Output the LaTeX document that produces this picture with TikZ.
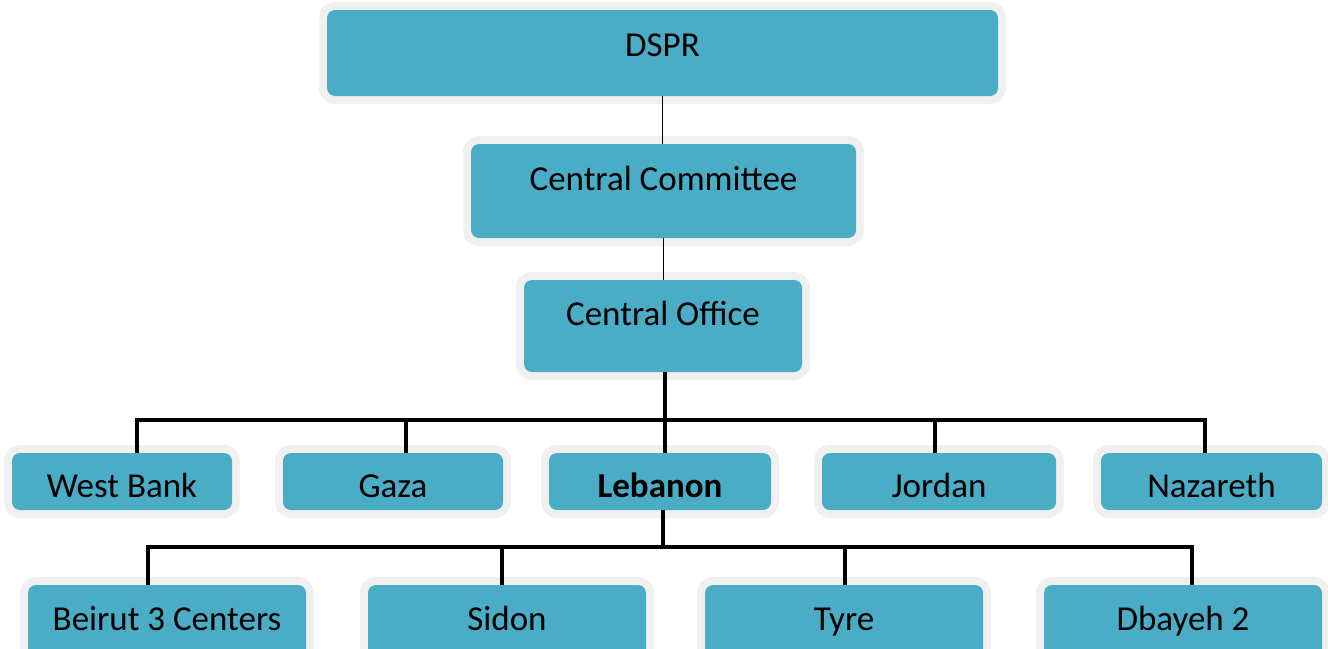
\documentclass[tikz,border=0pt]{standalone}
\usepackage{fontspec}
\setmainfont{Carlito}
\definecolor{boxfill}{HTML}{4BACC6}
\definecolor{rim}{HTML}{F0F0F0}
\tikzset{
  box/.style={rectangle, rounded corners=8pt, fill=boxfill, inner sep=0pt,
    font=\fontsize{35}{42}\selectfont, text=black,
    preaction={draw=rim, line width=16pt}},
  lvlA/.style={box, text height=24pt, text depth=18pt},
  lvlB/.style={box, text height=24pt, text depth=26pt},
  lvlC/.style={box, text height=24pt, text depth=25pt},
  lvlD/.style={box, text height=40pt, text depth=9pt, minimum height=57pt},
  lvlE/.style={box, text height=24pt, text depth=26pt, minimum height=92pt, minimum width=278pt},
  thinlink/.style={draw=black, line width=1.8pt},
  buslink/.style={draw=black, line width=3.5pt},
}
\begin{document}
\begin{tikzpicture}[x=1pt,y=-1pt]
\useasboundingbox (0,0) rectangle (1328,648);
\clip (0,0) rectangle (1328,648);
% level 1-3
\node[lvlA, minimum width=671pt, minimum height=86pt] (dspr) at (662.5,53) {DSPR};
\node[lvlB, minimum width=385pt, minimum height=94pt] (cc) at (663.5,191) {Central Committee};
\node[lvlC, minimum width=278pt, minimum height=92pt] (co) at (663,326) {Central Office};
% level 4
\node[lvlD, minimum width=220pt] (wb) at (122,481.5) {West Bank};
\node[lvlD, minimum width=220pt] (gaza) at (393,481.5) {Gaza};
\node[lvlD, minimum width=222pt] (leb) at (660,481.5) {\bfseries Lebanon};
\node[lvlD, minimum width=234pt] (jordan) at (939,481.5) {Jordan};
\node[lvlD, minimum width=221pt] (naz) at (1211.5,481.5) {Nazareth};
% level 5
\node[lvlE] (beirut) at (167,631) {Beirut 3 Centers};
\node[lvlE] (sidon) at (507,631) {Sidon};
\node[lvlE] (tyre) at (844,631) {Tyre};
\node[lvlE] (dbayeh) at (1183,631) {Dbayeh 2};
% bus coordinates
\coordinate (ba) at (137,420);
\coordinate (bb) at (406,420);
\coordinate (bc) at (665,420);
\coordinate (bd) at (935,420);
\coordinate (be) at (1205,420);
\coordinate (ca) at (148,547);
\coordinate (cb) at (502,547);
\coordinate (cc2) at (663,547);
\coordinate (cd) at (845,547);
\coordinate (ce) at (1192,547);
% connectors
\draw[thinlink] (dspr.south) -- (dspr.south |- cc.north);
\draw[thinlink] (cc.south) -- (cc.south |- co.north);
\draw[buslink] (bc |- co.south) -- (bc |- leb.north);
\draw[buslink] (ba |- wb.north) -- (ba) -- (be) -- (be |- naz.north);
\draw[buslink] (bb) -- (bb |- gaza.north);
\draw[buslink] (bd) -- (bd |- jordan.north);
\draw[buslink] (cc2 |- leb.south) -- (cc2);
\draw[buslink] (ca |- beirut.north) -- (ca) -- (ce) -- (ce |- dbayeh.north);
\draw[buslink] (cb) -- (cb |- sidon.north);
\draw[buslink] (cd) -- (cd |- tyre.north);
\end{tikzpicture}
\end{document}
